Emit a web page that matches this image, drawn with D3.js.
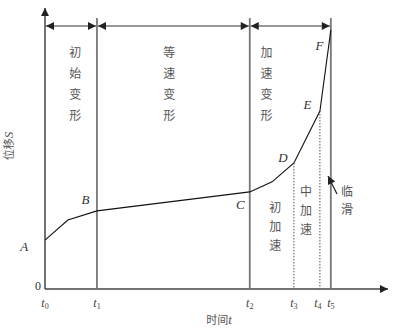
<!DOCTYPE html>
<html>
<head>
<meta charset="utf-8" />
<script src="https://d3js.org/d3.v7.min.js"></script>
<style>
  body { margin: 0; background: #fff; }
  text { font-family: "Noto Sans CJK SC", "Noto Sans", sans-serif; fill: #555; }
  .it { font-family: "Liberation Serif", "DejaVu Serif", serif; font-style: italic; }
</style>
</head>
<body>
<svg id="chart" width="403" height="330"></svg>
<script>
// time marks t0..t5 (arbitrary time units)
const tickNames = ["0", "1", "2", "3", "4", "5"];
const tickTimes = [0, 1, 3.94, 4.79, 5.29, 5.5];
// creep curve points (time, displacement S)
const curveT = [0, 0.44, 1, 3.94, 4.37, 4.79, 5.29, 5.5];
const curveS = [17.5, 24.7, 28, 34.8, 38.4, 45.2, 63.8, 92.8];
// point labels
const ptNames = ["A", "B", "C", "D", "E", "F"];
const ptT = [-0.4, 0.78, 3.76, 4.58, 5.05, 5.28];
const ptS = [13.5, 30.5, 28.5, 45.5, 64.5, 85.5];
// stage labels on top
const stageNames = ["初始变形", "等速变形", "加速变形"];
const stageT = [0.58, 2.39, 4.26];
const subNames = ["初加速", "中加速"];
const subT = [4.43, 5.02];

const svg = d3.select("#chart");
const x = d3.scaleLinear().domain([0, 6.6]).range([45, 388]);
const y = d3.scaleLinear().domain([0, 100]).range([289, 10]);

const defs = svg.append("defs");
function marker(id, color) {
  defs.append("marker").attr("id", id)
    .attr("viewBox", "0 0 10 10").attr("refX", 10).attr("refY", 5)
    .attr("markerWidth", 10).attr("markerHeight", 8).attr("markerUnits", "userSpaceOnUse")
    .attr("orient", "auto-start-reverse")
    .append("path").attr("d", "M0,0L10,5L0,10Z").attr("fill", color);
}
marker("ah", "#222");
marker("ax", "#222");

// axes
svg.append("line").attr("x1", x(0)).attr("y1", y(0)).attr("x2", x(6.6)).attr("y2", y(0))
  .attr("stroke", "#444").attr("stroke-width", 1.5).attr("marker-end", "url(#ax)");
svg.append("line").attr("x1", x(0)).attr("y1", y(0)).attr("x2", x(0)).attr("y2", y(100) - 2)
  .attr("stroke", "#444").attr("stroke-width", 1.5).attr("marker-end", "url(#ax)");

// stage boundary lines t1, t2, t5
[1, 2, 5].forEach(i => {
  svg.append("line").attr("x1", x(tickTimes[i])).attr("x2", x(tickTimes[i]))
    .attr("y1", 18).attr("y2", y(0))
    .attr("stroke", "#777").attr("stroke-width", 1.8);
});

// dotted lines t3, t4 from curve down
[3, 4].forEach(i => {
  const s = curveS[curveT.indexOf(tickTimes[i])];
  svg.append("line").attr("x1", x(tickTimes[i])).attr("x2", x(tickTimes[i]))
    .attr("y1", y(s)).attr("y2", y(0))
    .attr("stroke", "#555").attr("stroke-width", 1).attr("stroke-dasharray", "1.5,1.5");
});

// top double arrows
[[0, 1], [1, 2], [2, 5]].forEach(([a, b]) => {
  svg.append("line").attr("x1", x(tickTimes[a]) + 1).attr("x2", x(tickTimes[b]) - 1)
    .attr("y1", 26).attr("y2", 26)
    .attr("stroke", "#333").attr("stroke-width", 1.2)
    .attr("marker-start", "url(#ah)").attr("marker-end", "url(#ah)");
});

// curve
svg.append("path")
  .datum(curveT.map((t, i) => [t, curveS[i]]))
  .attr("d", d3.line().x(d => x(d[0])).y(d => y(d[1])))
  .attr("fill", "none").attr("stroke", "#111").attr("stroke-width", 1.1);

// vertical text helper
function vtext(str, cx, y0, gap) {
  str.split("").forEach((ch, i) => {
    svg.append("text").attr("x", cx).attr("y", y0 + i * gap)
      .attr("text-anchor", "middle").attr("font-size", 12).text(ch);
  });
}
stageNames.forEach((s, i) => vtext(s, x(stageT[i]), 57, 21));
subNames.forEach((s, i) => vtext(s, x(subT[i]), i === 0 ? 212 : 196, 19));
vtext("临滑", 347, 196, 18);

// pointer arrow to t5 line
svg.append("line").attr("x1", 337).attr("y1", 194).attr("x2", 328).attr("y2", 176)
  .attr("stroke", "#222").attr("stroke-width", 1.2).attr("marker-end", "url(#ah)");

// point labels
ptNames.forEach((n, i) => {
  svg.append("text").attr("class", "it").attr("x", x(ptT[i])).attr("y", y(ptS[i]))
    .attr("text-anchor", "middle").attr("font-size", 13).style("fill", "#333").text(n);
});

// origin label
svg.append("text").attr("x", 38).attr("y", 290).attr("text-anchor", "middle")
  .attr("font-size", 12).attr("class", "it").style("font-style", "normal").style("fill", "#333").text("0");

// tick labels t0..t5
tickTimes.forEach((t, i) => {
  const g = svg.append("text").attr("class", "it").attr("x", x(t) + (i === 4 ? -2 : 0)).attr("y", 307)
    .attr("text-anchor", "middle").attr("font-size", 12).style("fill", "#444");
  g.append("tspan").text("t");
  g.append("tspan").attr("font-size", 8).attr("dy", 2).style("font-style", "normal").text(tickNames[i]);
});

// axis titles
const xt = svg.append("text").attr("x", 219).attr("y", 324).attr("text-anchor", "middle").attr("font-size", 11);
xt.append("tspan").text("时间");
xt.append("tspan").attr("class", "it").style("font-size", "13px").text("t");

const yt = svg.append("text").attr("transform", "translate(13,146) rotate(-90)")
  .attr("text-anchor", "middle").attr("font-size", 11);
yt.append("tspan").text("位移");
yt.append("tspan").attr("class", "it").style("font-size", "13px").text("S");
</script>
</body>
</html>
